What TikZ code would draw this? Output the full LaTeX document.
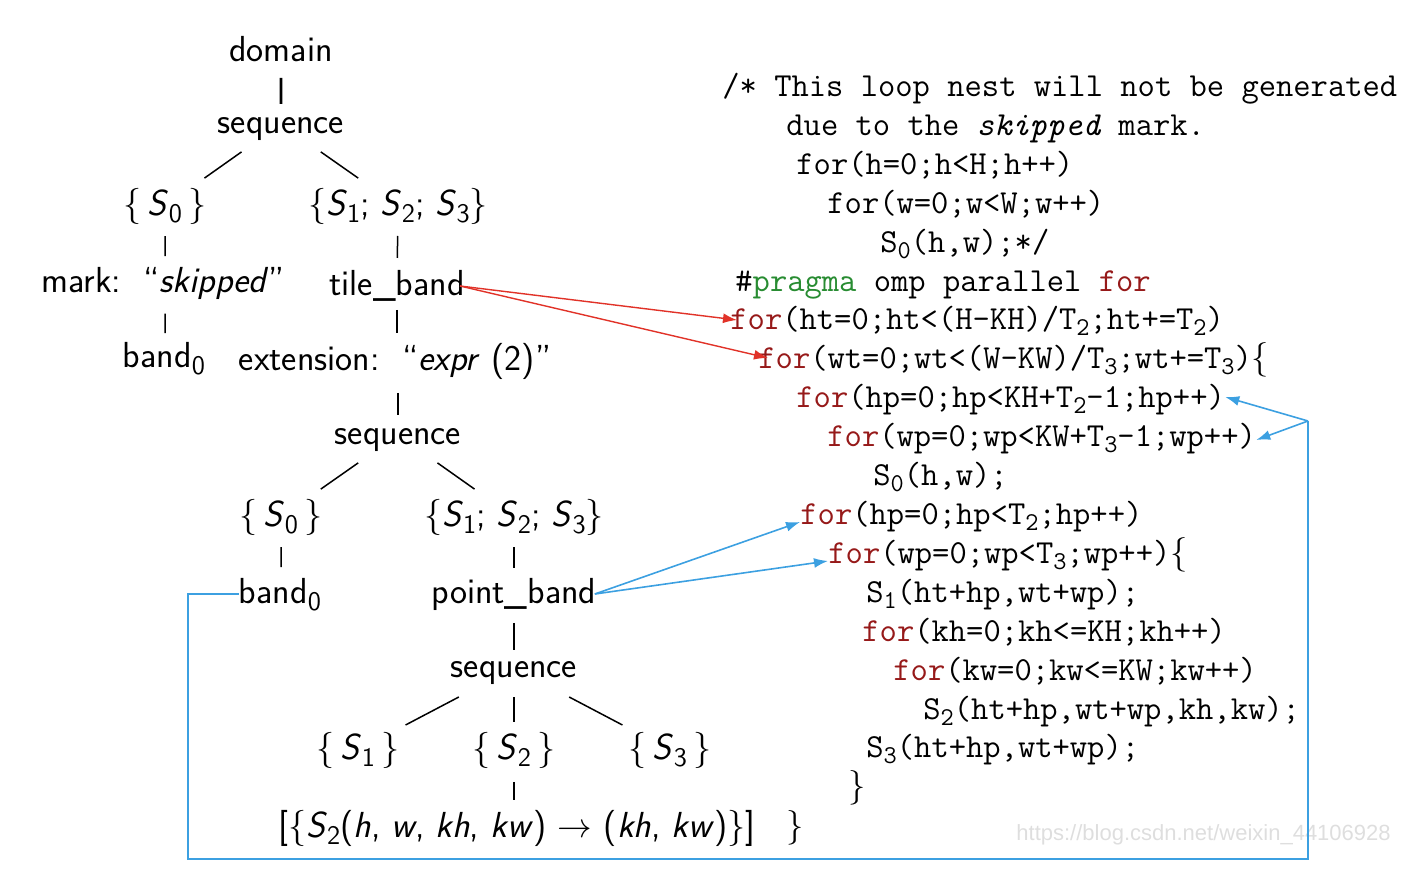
\documentclass[tikz,border=0pt]{standalone}
\usepackage{fontspec}
\newfontfamily\wmfont{Liberation Sans}
\usetikzlibrary{arrows.meta,calc}
\definecolor{kwc}{RGB}{150,25,25}
\definecolor{pgc}{RGB}{40,140,50}
\definecolor{ared}{RGB}{225,50,40}
\definecolor{ablue}{RGB}{60,160,225}
\definecolor{wmc}{RGB}{222,222,222}
\newcommand\sbs[1]{\raisebox{-0.4ex}{\fontsize{12.8}{12.8}\selectfont #1}}
\newcommand\tsb[1]{\raisebox{-0.4ex}{\fontsize{13.4}{13.4}\selectfont #1}}
\newcommand\K[1]{\textcolor{kwc}{#1}}
\newcommand\Sv[1]{\textit{S}\tsb{#1}}
\tikzset{
  tn/.style={font=\sffamily\fontsize{18.1}{22}\selectfont, inner sep=0pt, text height=1.0em, text depth=0em},
  code/.style={font=\ttfamily\fontsize{16.8}{20}\selectfont, inner sep=0pt, anchor=base west, text height=0.75em, text depth=0.25em},
  edge/.style={line width=0.75pt},
  redarr/.style={draw=ared, line width=0.7pt, -{Latex[length=7pt,width=5pt]}},
  bluearr/.style={draw=ablue, line width=0.8pt, -{Latex[length=7pt,width=5pt]}},
  blueln/.style={draw=ablue, line width=0.9pt},
}
\newcommand\edg[5][]{\draw[edge,#1] ($(#2)!#4!(#3)$) -- ($(#2)!#5!(#3)$);}
\begin{document}
\begin{tikzpicture}[x=0.5pt,y=-0.5pt]
\useasboundingbox (0,0) rectangle (1410,876);
% ---- tree ----
\node[tn] (dom) at (281,52) {domain};
\node[tn] (seqa) at (281,124) {sequence};
\node[tn] (s0a) at (165,206) {\{\,\Sv{0}\,\}};
\node[tn] (sxa) at (398,206) {\{\Sv{1}; \Sv{2}; \Sv{3}\}};
\node[tn] (mark) at (163,283) {mark:\ \ ``\textit{skipped}''};
\node[tn] (tile) at (397,286) {tile\_band};
\node[tn] (b0a) at (164,358) {band\tsb{0}};
\node[tn] (ext) at (395,361) {extension:\ \ ``\textit{expr}\ (2)''};
\node[tn] (seqb) at (398,435) {sequence};
\node[tn] (s0b) at (281,517) {\{\,\Sv{0}\,\}};
\node[tn] (sxb) at (514,517) {\{\Sv{1}; \Sv{2}; \Sv{3}\}};
\node[tn] (b0b) at (280,594) {band\tsb{0}};
\node[tn] (pb) at (514,594) {point\_band};
\node[tn] (seqc) at (514,668) {sequence};
\node[tn] (s1) at (358,750) {\{\,\Sv{1}\,\}};
\node[tn] (s2) at (514,750) {\{\,\Sv{2}\,\}};
\node[tn] (s3) at (670,750) {\{\,\Sv{3}\,\}};
\node[tn] (lab) at (517,828) {[\{\Sv{2}(\textit{h},\ \textit{w},\ \textit{kh},\ \textit{kw})\ $\rightarrow$\ (\textit{kh},\ \textit{kw})\}]};
% edges
\edg[line width=1.4pt]{dom}{seqa}{0.36}{0.72}
\edg{seqa}{s0a}{0.34}{0.66}
\edg{seqa}{sxa}{0.34}{0.66}
\edg{s0a}{s0a|-mark}{0.39}{0.65}
\edg{sxa}{tile}{0.375}{0.65}
\edg{s0a|-mark}{s0a|-b0a}{0.41}{0.67}
\edg{tile}{tile|-ext}{0.32}{0.63}
\edg{seqb|-ext}{seqb}{0.43}{0.73}
\edg{seqb}{s0b}{0.34}{0.66}
\edg{seqb}{sxb}{0.34}{0.66}
\edg{s0b}{s0b|-b0b}{0.39}{0.65}
\edg{sxb}{pb}{0.39}{0.66}
\edg{pb}{seqc}{0.39}{0.76}
\edg{seqc}{s1}{0.354}{0.695}
\edg{seqc}{s2}{0.354}{0.66}
\edg{seqc}{s3}{0.354}{0.695}
\edg{s2}{s2|-lab}{0.41}{0.64}
% ---- code ----
\node[code] (c1) at (722,97) {/* This loop nest will not be generated};
\node[code] (c2) at (786,136) {due to the \textit{skipped} mark.};
\node[code] (c3) at (796,175) {for(h=0;h<H;h++)};
\node[code] (c4) at (827,214) {for(w=0;w<W;w++)};
\node[code] (c5) at (880,253) {S\sbs{0}(h,w);*/};
\node[code] (c6) at (735,292) {\#\textcolor{pgc}{pragma} omp parallel \K{for}};
\node[code] (c7) at (730,330) {\K{for}(ht=0;ht<(H-KH)/T\sbs{2};ht+=T\sbs{2})};
\node[code] (c8) at (758,369) {\K{for}(wt=0;wt<(W-KW)/T\sbs{3};wt+=T\sbs{3})$\{$};
\node[code] (c9) at (796,408) {\K{for}(hp=0;hp<KH+T\sbs{2}-1;hp++)};
\node[code] (c10) at (827,447) {\K{for}(wp=0;wp<KW+T\sbs{3}-1;wp++)};
\node[code] (c11) at (873,486) {S\sbs{0}(h,w);};
\node[code] (c12) at (800,525) {\K{for}(hp=0;hp<T\sbs{2};hp++)};
\node[code] (c13) at (828,564) {\K{for}(wp=0;wp<T\sbs{3};wp++)$\{$};
\node[code] (c14) at (866,603) {S\sbs{1}(ht+hp,wt+wp);};
\node[code] (c15) at (862,642) {\K{for}(kh=0;kh<=KH;kh++)};
\node[code] (c16) at (893,681) {\K{for}(kw=0;kw<=KW;kw++)};
\node[code] (c17) at (923,720) {S\sbs{2}(ht+hp,wt+wp,kh,kw);};
\node[code] (c18) at (866,758) {S\sbs{3}(ht+hp,wt+wp);};
\node[code] (c19) at (848,797) {$\}$};
\node[code] (c20) at (786,837) {$\}$};
% watermark
\node[font=\wmfont\fontsize{11}{12}\selectfont, text=wmc, inner sep=0pt, anchor=west] (wm) at (1016,835) {https://blog.csdn.net/weixin\_44106928};
% ---- arrows ----
\draw[redarr] ([xshift=-2.5pt]tile.east) -- ([xshift=3.5pt,yshift=2.5pt]c7.west);
\draw[redarr] ([xshift=-2.5pt]tile.east) -- ([xshift=5pt,yshift=3pt]c8.west);
\draw[bluearr] ([xshift=-1pt]pb.east) -- ([yshift=-1pt]c12.west);
\draw[bluearr] ([xshift=-1pt]pb.east) -- ([yshift=-1pt]c13.west);
\coordinate (bl) at (188,859);
\coordinate (br) at (1308,859);
\coordinate (bj) at (1308,421);
\draw[blueln] (b0b.west) -| (bl) -- (br) -- (bj);
\draw[bluearr] (bj) -- ([xshift=0pt,yshift=3pt]c9.east);
\draw[bluearr] (bj) -- ([xshift=0pt,yshift=1pt]c10.east);
\end{tikzpicture}
\end{document}
